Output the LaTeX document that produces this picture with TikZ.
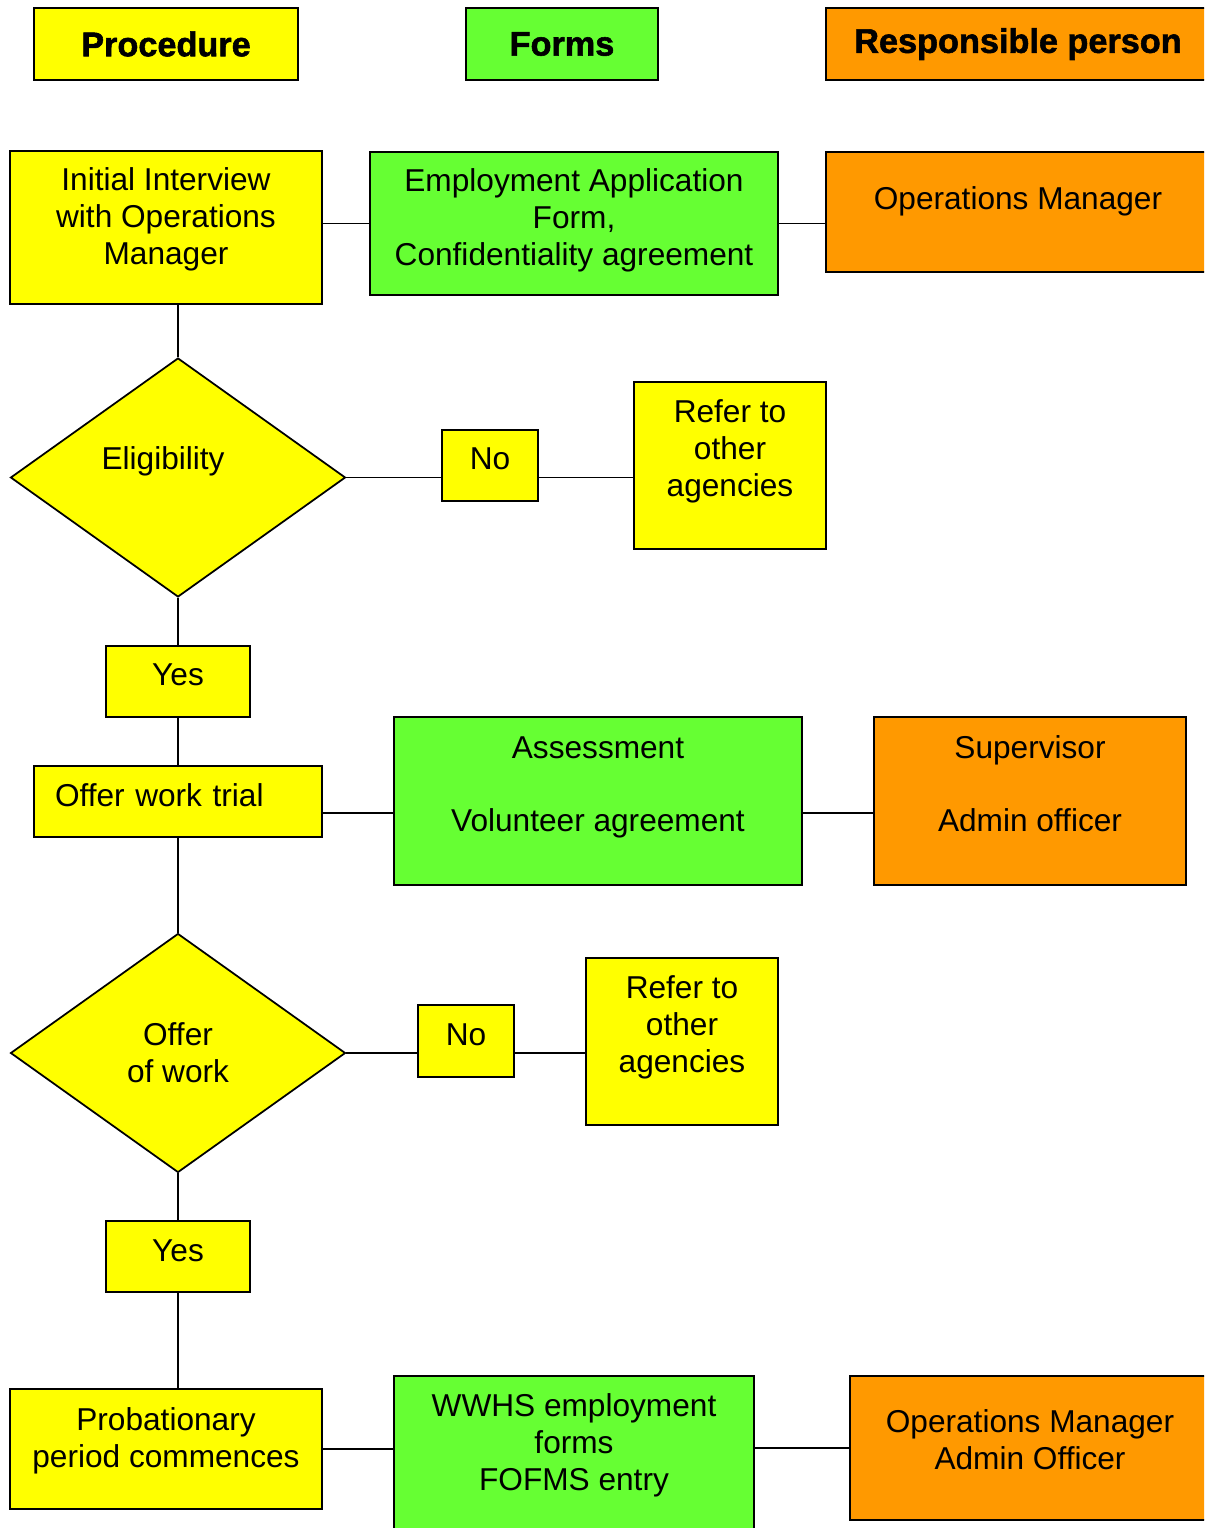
\documentclass[tikz,border=0pt]{standalone}
\usepackage{fontspec}
\setmainfont{Liberation Sans}
\newfontfamily\headfont{Liberation Sans}[BoldFeatures={FakeBold=1.6}]
\usetikzlibrary{shapes.geometric}

\definecolor{procyellow}{HTML}{FFFF00}
\definecolor{formgreen}{HTML}{66FF33}
\definecolor{resporange}{HTML}{FF9900}

\begin{document}
\begin{tikzpicture}[x=0.02cm, y=-0.02cm,
  %% caixa base
  basebox/.style={
    rectangle, draw=black, line width=1pt, inner sep=0pt,
    align=center, font=\fontsize{18}{21}\selectfont
  },
  %% colunas: procedimento, formularios, responsavel
  pbox/.style={basebox, fill=procyellow},
  fbox/.style={basebox, fill=formgreen},
  rbox/.style={basebox, fill=resporange},
  %% cabecalhos
  head/.style={line width=1.6pt, minimum height=1.44cm,
    font=\headfont\fontsize{19.5}{24}\selectfont\bfseries},
  %% decisoes
  decision/.style={
    diamond, draw=black, line width=1pt, fill=procyellow,
    inner sep=0pt, shape aspect=1.4, align=center,
    minimum width=6.7cm, minimum height=4.78cm,
    font=\fontsize{18}{21}\selectfont
  },
  %% ligacoes
  link/.style={line width=1pt}
]
\clip (0,0) rectangle (1204,1528);

%% ================================================================
%% CABECALHOS
%% ================================================================
\node[pbox, head, minimum width=5.28cm] (hproc)  at (166,44)  {Procedure};
\node[fbox, head, minimum width=3.84cm] (hforms) at (562,44)  {Forms};
\node[rbox, head, minimum width=7.68cm] (hresp)  at (1018,44) {Responsible person};

%% ================================================================
%% ENTREVISTA
%% ================================================================
\node[pbox, minimum width=6.24cm, minimum height=3.06cm, text depth=13pt]
  (interview) at (166,227.5) {Initial Interview\\with Operations\\Manager};

\node[fbox, minimum width=8.16cm, minimum height=2.86cm, text depth=7pt]
  (empform) at (574,223.5) {Employment Application\\Form,\\Confidentiality agreement};

\node[rbox, minimum width=7.68cm, minimum height=2.4cm, text depth=16.3pt]
  (opsmgr) at (1018,212) {Operations Manager};

\draw[link] (empform.west -| interview.east) -- (empform.west);
\draw[link] (empform.east) -- (empform.east -| opsmgr.west);

%% ================================================================
%% ELEGIBILIDADE
%% ================================================================
\node[decision, text depth=22pt] (elig) at (178,477.5) {Eligibility\hspace*{17pt}};

\node[pbox, minimum width=1.92cm, minimum height=1.42cm, text depth=7.4pt]
  (no1) at (490,465.5) {No};

\node[pbox, minimum width=3.84cm, minimum height=3.34cm, text depth=20.3pt]
  (refer1) at (730,465.5) {Refer to\\other\\agencies};

\draw[link] (elig.north |- interview.south) -- (elig.north);
\draw[link] (elig.east) -- (elig.east -| no1.west);
\draw[link] (elig.east -| no1.east) -- (elig.east -| refer1.west);

\node[pbox, minimum width=2.88cm, minimum height=1.42cm, text depth=7.4pt]
  (yes1) at (178,681.5) {Yes};

\draw[link] (elig.south) -- (yes1.north);

%% ================================================================
%% PERIODO DE EXPERIENCIA
%% ================================================================
\coordinate (trialrow) at (0,813);

\node[pbox, minimum width=5.76cm, minimum height=1.42cm, text depth=7.4pt,
      align=left, text width=4.92cm, inner xsep=0.42cm]
  (trial) at (178,801.5) {Offer work trial};

\node[fbox, minimum width=8.16cm, minimum height=3.36cm, text depth=19.2pt]
  (assess) at (598,801) {Assessment\\[21pt]Volunteer agreement};

\node[rbox, minimum width=6.24cm, minimum height=3.36cm, text depth=19.9pt]
  (super) at (1030,801) {Supervisor\\[21pt]Admin officer};

\draw[link] (yes1.south) -- (trial.north);
\draw[link] (trial.east |- trialrow) -- (assess.west |- trialrow);
\draw[link] (assess.east |- trialrow) -- (super.west |- trialrow);

%% ================================================================
%% OFERTA DE TRABALHO
%% ================================================================
\node[decision] (offer) at (178,1053) {Offer\\of work};

\node[pbox, minimum width=1.92cm, minimum height=1.44cm, text depth=6.8pt]
  (no2) at (466,1041) {No};

\node[pbox, minimum width=3.84cm, minimum height=3.34cm, text depth=20.3pt]
  (refer2) at (682,1041.5) {Refer to\\other\\agencies};

\draw[link] (trial.south) -- (offer.north);
\draw[link] (offer.east) -- (offer.east -| no2.west);
\draw[link] (offer.east -| no2.east) -- (offer.east -| refer2.west);

\node[pbox, minimum width=2.88cm, minimum height=1.42cm, text depth=6.3pt]
  (yes2) at (178,1256.5) {Yes};

\draw[link] (offer.south) -- (yes2.north);

%% ================================================================
%% INICIO DA EXPERIENCIA
%% ================================================================
\node[pbox, minimum width=6.24cm, minimum height=2.4cm, text depth=13.5pt]
  (probation) at (166,1449) {Probationary\\period commences};

\node[fbox, minimum width=7.2cm, minimum height=3.28cm, text depth=18.6pt]
  (wwhs) at (574,1458) {WWHS employment\\forms\\FOFMS entry};

\node[rbox, minimum width=7.2cm, minimum height=2.88cm, text depth=9.7pt]
  (opsadmin) at (1030,1448) {Operations Manager\\Admin Officer};

\draw[link] (yes2.south) -- (yes2.south |- probation.north);
\draw[link] (probation.east) -- (probation.east -| wwhs.west);
\draw[link] (wwhs.east |- opsadmin.west) -- (opsadmin.west);

\end{tikzpicture}
\end{document}
